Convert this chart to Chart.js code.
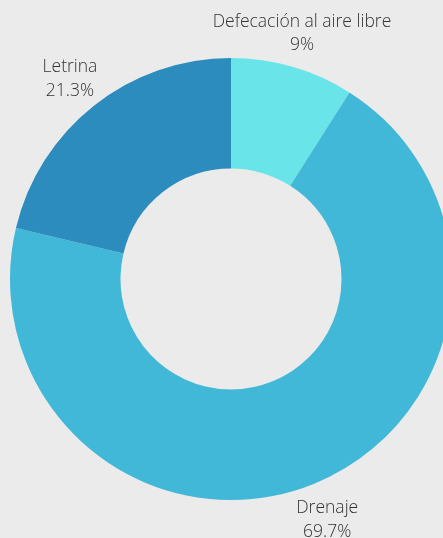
<!DOCTYPE html>
<html>
<head>
<meta charset="utf-8">
<script src="https://cdn.jsdelivr.net/npm/chart.js@4.4.1/dist/chart.umd.min.js"></script>
<style>
html,body{margin:0;padding:0;overflow:hidden;background:#ebebeb;}
#wrap{position:relative;width:462px;height:538px;}
</style>
</head>
<body>
<div id="wrap"><canvas id="c" width="462" height="538"></canvas></div>
<script>
const categories = ["Defecación al aire libre", "Drenaje", "Letrina"];
const values = [9, 69.7, 21.3];
const valueLabels = ["9%", "69.7%", "21.3%"];
const colors = ["#69e4e8", "#41b8d7", "#2b8cbd"];

const outsideLabels = {
  id: 'outsideLabels',
  afterDatasetsDraw(chart) {
    const ctx = chart.ctx;
    const meta = chart.getDatasetMeta(0);
    ctx.save();
    ctx.font = '300 17.5px "Open Sans"';
    ctx.fillStyle = '#333333';
    ctx.textAlign = 'center';
    ctx.textBaseline = 'middle';
    meta.data.forEach((arc, i) => {
      const p = arc.getProps(['x','y','startAngle','endAngle','outerRadius'], true);
      const mid = (p.startAngle + p.endAngle) / 2;
      const r = p.outerRadius + 37;
      const cx = p.x + Math.cos(mid) * r - 1;
      const cy = p.y + Math.sin(mid) * r + 2;
      ctx.fillText(categories[i], cx, cy - 11.5);
      ctx.fillText(valueLabels[i], cx, cy + 12);
    });
    ctx.restore();
  }
};

new Chart(document.getElementById('c'), {
  type: 'doughnut',
  data: {
    labels: categories,
    datasets: [{
      data: values,
      backgroundColor: colors,
      borderWidth: 0
    }]
  },
  options: {
    responsive: false,
    animation: false,
    cutout: '50%',
    layout: { padding: { top: 58, bottom: 38, left: 10, right: 10 } },
    plugins: { legend: { display: false }, tooltip: { enabled: false } }
  },
  plugins: [outsideLabels]
});
</script>
</body>
</html>
